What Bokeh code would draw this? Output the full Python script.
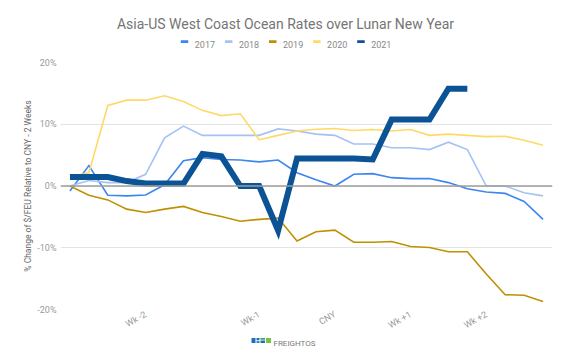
from bokeh.plotting import figure
from bokeh.models import (FixedTicker, Span, ColumnDataSource, Range1d)
from bokeh.layouts import column
from bokeh.core.properties import value
from bokeh.embed import file_html
from bokeh.resources import INLINE
import math

# ---- data -------------------------------------------------------------
x_index = list(range(26))
x_ticks = [4, 10, 14, 18, 22]
x_tick_labels = ["Wk -2", "Wk-1", "CNY", "Wk +1", "Wk +2"]
y_ticks = [-20, -10, 0, 10, 20]

series_names = ["2017", "2018", "2019", "2020", "2021"]
val_2017 = [-0.8, 3.3, -1.5, -1.6, -1.45, 0.2, 4.1, 4.6, 4.3, 4.2, 3.9, 4.2, 2.15,
            1.0, 0.0, 1.9, 2.0, 1.35, 1.2, 1.2, 0.55, -0.45, -0.97, -1.2, -2.5, -5.4]
val_2018 = [0.0, 0.9, 0.55, 0.55, 1.9, 7.8, 9.7, 8.2, 8.2, 8.2, 8.2, 9.25, 8.9,
            8.4, 8.2, 6.8, 6.8, 6.2, 6.2, 5.9, 7.1, 5.9, 0.0, 0.0, -1.1, -1.6]
val_2019 = [0.0, -1.5, -2.25, -3.75, -4.3, -3.75, -3.3, -4.3, -4.95, -5.7, -5.4, -5.2, -8.9,
            -7.4, -7.15, -9.1, -9.1, -9.0, -9.8, -9.95, -10.65, -10.65, -14.25, -17.6, -17.7, -18.7]
val_2020 = [1.5, 2.15, 13.05, 13.9, 13.9, 14.6, 13.7, 12.25, 11.4, 11.7, 7.5, 8.2, 8.9,
            9.2, 9.3, 9.0, 9.15, 8.9, 9.15, 8.2, 8.4, 8.2, 8.0, 8.05, 7.4, 6.6]
val_2021 = [1.45, 1.45, 1.45, 0.8, 0.4, 0.4, 0.4, 5.2, 4.8, 0.0, 0.0, -7.2, 4.45,
            4.45, 4.45, 4.45, 4.3, 10.75, 10.75, 10.75, 15.75, 15.75]

title_text = "Asia-US West Coast Ocean Rates over Lunar New Year"
y_axis_title = "% Change of $/FEU Relative to CNY - 2 Weeks"
brand_text = "FREIGHTOS"

colors = ["#3d85f0", "#a4c2f4", "#bf9000", "#ffd966", "#0b5394"]
widths = [1.6, 1.6, 1.6, 1.6, 6]
all_vals = [val_2017, val_2018, val_2019, val_2020, val_2021]

FONT = "Roboto"
W = 576
FL, FR = 60, 552          # frame left / right (page pixels); column aligns all frames
HEAD_H, MAIN_H, FOOT_H = 56, 281, 15


def blank(h):
    f = figure(width=W, height=h, output_backend="svg", toolbar_location=None,
               x_range=Range1d(FL, FR), y_range=Range1d(0, h),
               x_axis_type=None, y_axis_type=None,
               min_border_left=FL, min_border_right=W - FR,
               min_border_top=0, min_border_bottom=0)
    f.outline_line_color = None
    f.grid.grid_line_color = None
    f.background_fill_color = "white"
    f.border_fill_color = "white"
    return f


# ---- header: title + legend (header data units == page pixels) -------
head = blank(HEAD_H)
head.text(x=[285], y=[HEAD_H - 23.3], text=[title_text], text_font=value(FONT),
          text_font_size="14px", text_color="#757575", text_align="center",
          text_baseline="alphabetic")

leg_text_x = [194.3 + 44.1 * k for k in range(5)]  # layout positions of legend labels
head.quad(left=[t - 14 for t in leg_text_x], right=[t - 6.5 for t in leg_text_x],
          top=[HEAD_H - 39.7] * 5, bottom=[HEAD_H - 42.6] * 5,
          fill_color=colors, line_color=None)
head.text(x=leg_text_x, y=[HEAD_H - 44.2] * 5, text=series_names, text_font=value(FONT),
          text_font_size="9px", text_color="#8a8a8a", text_align="left",
          text_baseline="alphabetic")

# ---- main chart -----------------------------------------------------
p = figure(width=W, height=MAIN_H, output_backend="svg", toolbar_location=None,
           x_range=Range1d(-0.5, 25.5), y_range=Range1d(-20, 20),
           min_border_left=FL, min_border_right=W - FR, min_border_top=6,
           min_border_bottom=28)
p.outline_line_color = None
p.background_fill_color = "white"
p.border_fill_color = "white"

for name, vals, c, w in zip(series_names, all_vals, colors, widths):
    src = ColumnDataSource(dict(x=x_index[:len(vals)], y=vals))
    p.line("x", "y", source=src, line_color=c, line_width=w, line_join="miter")

p.add_layout(Span(location=0, dimension="width", line_color="#9e9e9e", line_width=1.3),
             "center")

p.xaxis.ticker = FixedTicker(ticks=x_ticks)
p.xaxis.major_label_overrides = {t: l for t, l in zip(x_ticks, x_tick_labels)}
p.xaxis.major_label_orientation = math.pi / 6
p.xaxis.axis_line_color = None
p.xaxis.major_tick_line_color = None
p.xaxis.minor_tick_line_color = None
p.xaxis.major_tick_out = 0
p.xaxis.major_tick_in = 0
p.xaxis.major_label_text_font = FONT
p.xaxis.major_label_text_font_size = "9px"
p.xaxis.major_label_text_color = "#9a9a9a"
p.xaxis.major_label_standoff = 4

p.yaxis.ticker = FixedTicker(ticks=y_ticks)
p.yaxis.major_label_overrides = {t: f"{t}%" for t in y_ticks}
p.yaxis.axis_line_color = None
p.yaxis.major_tick_line_color = None
p.yaxis.minor_tick_line_color = None
p.yaxis.major_tick_out = 0
p.yaxis.major_tick_in = 0
p.yaxis.major_label_text_font = FONT
p.yaxis.major_label_text_font_size = "9px"
p.yaxis.major_label_text_color = "#9a9a9a"
p.yaxis.major_label_standoff = 4
p.yaxis.axis_label = y_axis_title
p.yaxis.axis_label_text_font = FONT
p.yaxis.axis_label_text_font_size = "8.5px"
p.yaxis.axis_label_text_font_style = "normal"
p.yaxis.axis_label_text_color = "#666666"
p.yaxis.axis_label_standoff = 1

p.xgrid.grid_line_color = None
p.ygrid.grid_line_color = "#e3e3e3"
p.ygrid.grid_line_width = 1

# ---- footer: Freightos logo (footer x == page px, y == 352 - page y) ----
foot = blank(FOOT_H)
PAGE_H = HEAD_H + MAIN_H + FOOT_H
logo_boxes = [  # left, right, top, bottom (page pixels), colour
    (251, 255, 337.5, 342.5, "#1c6fb8"),
    (256, 259, 337.5, 339.7, "#1c6fb8"),
    (256, 259, 340.4, 342.5, "#2a8ad0"),
    (260, 264.5, 337.5, 339.2, "#39a36a"),
    (260, 264.5, 339.9, 342.5, "#1c6fb8"),
    (265.5, 270.5, 337.5, 342.5, "#7cc242"),
]
foot.quad(left=[b[0] for b in logo_boxes], right=[b[1] for b in logo_boxes],
          top=[PAGE_H - b[2] for b in logo_boxes],
          bottom=[PAGE_H - b[3] for b in logo_boxes],
          fill_color=[b[4] for b in logo_boxes], line_color=None)
foot.text(x=[273], y=[PAGE_H - 342.6], text=[brand_text], text_font=value(FONT),
          text_font_size="8px", text_color="#7a7a7a", text_align="left",
          text_baseline="alphabetic")

layout = column(head, p, foot, spacing=0)
open("out.html", "w").write(file_html(layout, INLINE))
